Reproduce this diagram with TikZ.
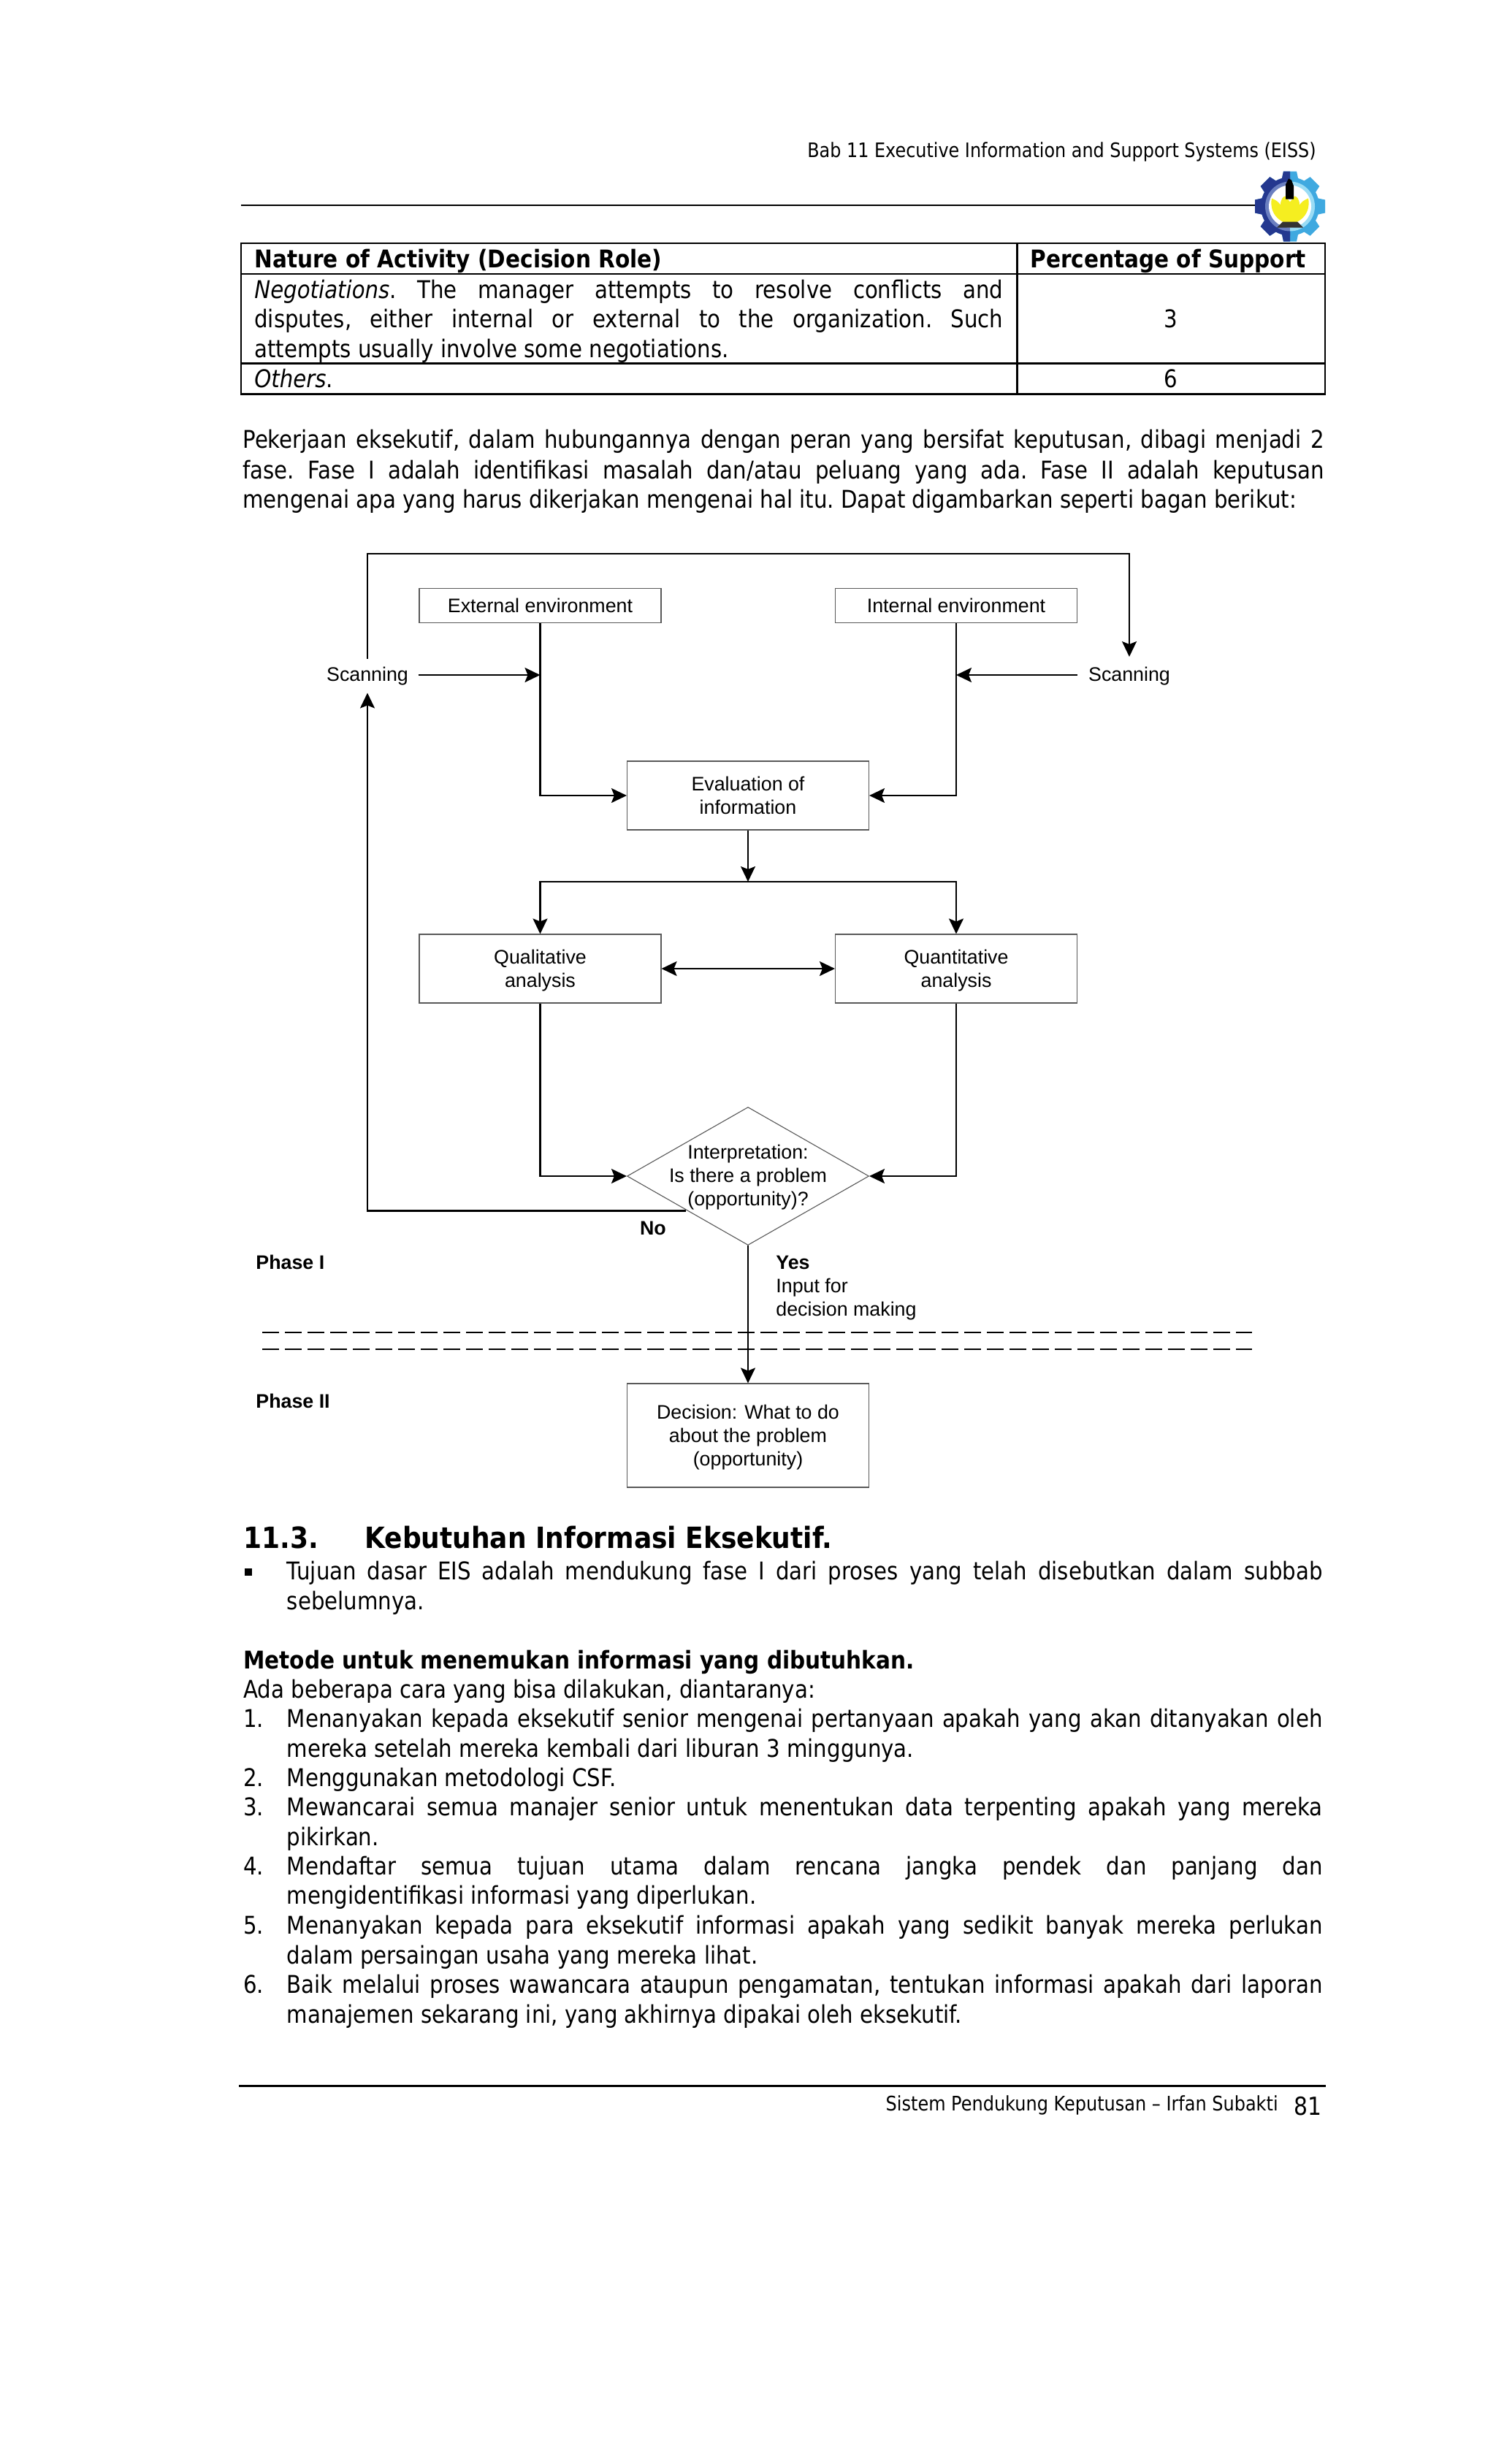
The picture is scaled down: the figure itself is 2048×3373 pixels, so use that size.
\documentclass[tikz,border=0pt]{standalone}
\usepackage{fontspec}
\usetikzlibrary{arrows.meta,shapes.geometric}
\setmainfont{Liberation Sans}
\newfontfamily\bodyf[FakeStretch=0.875]{DejaVu Sans}
\newfontfamily\bodyb[FakeStretch=0.885]{DejaVu Sans Bold}
\newfontfamily\titlef[FakeStretch=0.90]{DejaVu Sans Bold}
\newfontfamily\bodyi[FakeStretch=0.875]{DejaVu Sans Oblique}
\definecolor{itsdark}{HTML}{24388F}
\definecolor{itsmid}{HTML}{6A7FC0}
\definecolor{itslight}{HTML}{3FA9E0}
\definecolor{itspale}{HTML}{9ADCF5}
\definecolor{itsyel}{HTML}{F5EE20}
\tikzset{x=0.5pt,y=-0.5pt,
  diag/.style={font=\fontsize{13.4}{16}\selectfont,align=center,inner sep=0pt},
  diagb/.style={font=\fontsize{13.4}{16}\selectfont\bfseries,inner sep=0pt},
  fbox/.style={draw=black!65,line width=0.55pt,fill=white,minimum width=165.5pt,align=center,inner sep=0pt,font=\fontsize{13.4}{16}\selectfont},
  flow/.style={line width=1.1pt,-{Stealth[length=10.5pt,width=10pt,inset=2pt]}},
  both/.style={line width=1.1pt,{Stealth[length=10.5pt,width=10pt,inset=2pt]}-{Stealth[length=10.5pt,width=10pt,inset=2pt]}},
  tline/.style={line width=1.1pt},
  phasedash/.style={line width=1.1pt,dash pattern=on 11.5pt off 4pt},
  txt/.style={anchor=base west,inner sep=0pt,font=\fontsize{16.7}{20}\bodyf\frenchspacing},
  txtb/.style={anchor=base west,inner sep=0pt,font=\fontsize{16.7}{20}\bodyb\frenchspacing},
}
% \jl{name}{x}{baseline y}{width}{text}: a justified line of text
\newcommand{\jl}[5]{\node[txt] (#1) at (#2,#3) {\makebox[0.5\dimexpr #4pt\relax][s]{#5}};}
\newcommand{\nl}[4]{\node[txt] (#1) at (#2,#3) {#4};}
\begin{document}
\begin{tikzpicture}
\useasboundingbox (0,0) rectangle (2048,3373);
\fill[white] (0,0) rectangle (2048,3373);
% header
\node[anchor=base east,inner sep=0pt,font=\fontsize{13.65}{16}\bodyf] (hdr) at (1802,215) {Bab 11 Executive Information and Support Systems (EISS)};
\coordinate (ruleL) at (330,281); \coordinate (ruleR) at (1730,281);
\draw[line width=1.25pt] (ruleL) -- (ruleR);
% logo
\begin{scope}[shift={(1766,282.5)}]
  \foreach \a in {0,45,...,315}{\fill[itslight,rotate=\a] (-9,-48)--(9,-48)--(12,-34)--(-12,-34)--cycle;}
  \fill[itslight] (0,0) circle (40);
  \begin{scope}
    \clip (-60,-60) rectangle (0,60);
    \foreach \a in {0,45,...,315}{\fill[itsdark,rotate=\a] (-9,-48)--(9,-48)--(12,-34)--(-12,-34)--cycle;}
    \fill[itsdark] (0,0) circle (40);
    \fill[itsmid] (0,0) circle (34);
  \end{scope}
  \begin{scope}
    \clip (0,-60) rectangle (60,60);
    \fill[itspale] (0,0) circle (34);
  \end{scope}
  \fill[white] (0,0) circle (29);
  \fill[itsyel] (0,25) .. controls (-26,18) and (-27,-2) .. (-25,-11) .. controls (-18,-8) and (-16,-6) .. (-13,-2) .. controls (-13,-10) and (-9,-14) .. (-6,-14) .. controls (-4,-10) and (-1,-8) .. (0,-6) .. controls (1,-8) and (4,-10) .. (6,-14) .. controls (9,-14) and (13,-10) .. (13,-2) .. controls (16,-6) and (18,-8) .. (25,-11) .. controls (27,-2) and (26,18) .. (0,25) -- cycle;
  \fill[black] (-6,-10) -- (-6,-30) -- (-2,-38) -- (2,-36) -- (5,-28) -- (5,-10) -- cycle;
  \fill[black!80] (-18,29) -- (-10,21) -- (10,21) -- (18,29) -- cycle;
\end{scope}
% table
\coordinate (t1) at (330,333); \coordinate (t2) at (1814,539.5);
\draw[tline] (t1) rectangle (t2);
\draw[tline] (330,375) -- (1814,375) (330,497.5) -- (1814,497.5) (1392.5,333) -- (1392.5,539.5);
\node[txtb] (th1) at (348,366) {Nature of Activity (Decision Role)};
\node[txtb] (th2) at (1410,366) {Percentage of Support};
\node[txt] (r1a) at (348,408) {\makebox[0.5\dimexpr 1025pt\relax][s]{{\bodyi Negotiations}. The manager attempts to resolve conflicts and}};
\jl{r1b}{348}{448}{1025}{disputes, either internal or external to the organization. Such}
\nl{r1c}{348}{489}{attempts usually involve some negotiations.}
\node[txt,anchor=base] (n3) at (1603,448) {3};
\node[txt] (r2a) at (348,530) {{\bodyi Others}.};
\node[txt,anchor=base] (n6) at (1603,530) {6};
% paragraph
\jl{p1}{332}{613}{1480}{Pekerjaan eksekutif, dalam hubungannya dengan peran yang bersifat keputusan, dibagi menjadi 2}
\jl{p2}{332}{655}{1480}{fase. Fase I adalah identifikasi masalah dan/atau peluang yang ada. Fase II adalah keputusan}
\nl{p3}{332}{695}{mengenai apa yang harus dikerjakan mengenai hal itu. Dapat digambarkan seperti bagan berikut:}
% diagram nodes
\node[fbox,minimum height=23.75pt] (ext) at (739.5,829) {External environment};
\node[fbox,minimum height=23.75pt] (int) at (1309,829) {Internal environment};
\node[diag] (scanL) at (503,925.5) {Scanning};
\node[diag] (scanR) at (1546,925.5) {Scanning};
\node[fbox,minimum height=47pt] (eval) at (1024,1089) {Evaluation of\\information};
\node[fbox,minimum height=47pt] (qual) at (739.5,1326) {\rule{0pt}{12pt}Qualitative\\analysis};
\node[fbox,minimum height=47pt] (quant) at (1309,1326) {\rule{0pt}{12pt}Quantitative\\analysis};
\node[diamond,draw=black!65,line width=0.55pt,fill=white,minimum width=165.5pt,minimum height=94.5pt,inner sep=0pt,aspect=1.75] (dia) at (1024,1610) {};
\node[diag] (diat) at (1024,1611.5) {Interpretation:\\Is there a problem\\(opportunity)?};
\node[fbox,minimum height=71pt] (dec) at (1024,1965) {\rule{0pt}{12pt}Decision: What to do\\about the problem\\(opportunity)};
\node[diagb] (no) at (894,1681) {No};
\node[diagb,anchor=base west] (ph1) at (350,1737) {Phase I};
\node[diagb,anchor=base west] (ph2) at (350,1927) {Phase II};
\node[diagb,anchor=base west] (yes) at (1062,1737) {Yes};
\node[diag,anchor=base west] (inp1) at (1062,1769) {Input for};
\node[diag,anchor=base west] (inp2) at (1062,1801) {decision making};
% helper points
\coordinate (topL) at (503,758); \coordinate (topR) at (1546,758);
\coordinate (sL) at (503,901.5); \coordinate (sR) at (1546,899);
\coordinate (uL) at (503,948.5); \coordinate (noL) at (503,1657.5); \coordinate (noR) at (939,1657.5);
\coordinate (aL0) at (572.6,924); \coordinate (aL1) at (739.5,924);
\coordinate (aR0) at (1475,924); \coordinate (aR1) at (1309,924);
\coordinate (barM) at (1024,1207); \coordinate (barL) at (739.5,1207); \coordinate (barR) at (1309,1207);
\coordinate (d1a) at (359,1824); \coordinate (d1b) at (1714,1824);
\coordinate (d2a) at (359,1847); \coordinate (d2b) at (1714,1847);
% connectors
\draw[flow] (sL) -- (topL) -- (topR) -- (sR);
\draw[flow] (noR) -- (noL) -- (uL);
\draw[flow] (aL0) -- (aL1);
\draw[flow] (aR0) -- (aR1);
\draw[flow] (ext.south) |- (eval.west);
\draw[flow] (int.south) |- (eval.east);
\draw[flow] (eval.south) -- (barM);
\draw[flow] (barM) -- (barL) -- (qual.north);
\draw[flow] (barM) -- (barR) -- (quant.north);
\draw[both] (qual.east) -- (quant.west);
\draw[flow] (qual.south) |- (dia.west);
\draw[flow] (quant.south) |- (dia.east);
\draw[phasedash] (d1a) -- (d1b);
\draw[phasedash] (d2a) -- (d2b);
\draw[flow] (dia.south) -- (dec.north);
% section
\node[anchor=base west,inner sep=0pt,font=\fontsize{20}{24}\titlef] (sn) at (333,2119.5) {11.3.};
\node[anchor=base west,inner sep=0pt,font=\fontsize{20}{24}\titlef] (st) at (499,2119.5) {Kebutuhan Informasi Eksekutif.};
\fill (335,2147) rectangle (345,2157);
\jl{b1}{392.5}{2162}{1417.5}{Tujuan dasar EIS adalah mendukung fase I dari proses yang telah disebutkan dalam subbab}
\nl{b2}{392.5}{2203.4}{sebelumnya.}
\node[txtb] (mt) at (333,2284) {Metode untuk menemukan informasi yang dibutuhkan.};
\nl{ada}{333}{2324}{Ada beberapa cara yang bisa dilakukan, diantaranya:}
\nl{n1}{333}{2364}{1.} \jl{l1a}{392.5}{2364}{1417.5}{Menanyakan kepada eksekutif senior mengenai pertanyaan apakah yang akan ditanyakan oleh}
\nl{l1b}{392.5}{2405}{mereka setelah mereka kembali dari liburan 3 minggunya.}
\nl{n2}{333}{2445}{2.} \nl{l2a}{392.5}{2445}{Menggunakan metodologi CSF.}
\nl{n3x}{333}{2485}{3.} \jl{l3a}{392.5}{2485}{1417.5}{Mewancarai semua manajer senior untuk menentukan data terpenting apakah yang mereka}
\nl{l3b}{392.5}{2526}{pikirkan.}
\nl{n4}{333}{2566}{4.} \jl{l4a}{392.5}{2566}{1417.5}{Mendaftar semua tujuan utama dalam rencana jangka pendek dan panjang dan}
\nl{l4b}{392.5}{2606.6}{mengidentifikasi informasi yang diperlukan.}
\nl{n5}{333}{2647}{5.} \jl{l5a}{392.5}{2647}{1417.5}{Menanyakan kepada para eksekutif informasi apakah yang sedikit banyak mereka perlukan}
\nl{l5b}{392.5}{2688}{dalam persaingan usaha yang mereka lihat.}
\nl{n6x}{333}{2728}{6.} \jl{l6a}{392.5}{2728}{1417.5}{Baik melalui proses wawancara ataupun pengamatan, tentukan informasi apakah dari laporan}
\nl{l6b}{392.5}{2769}{manajemen sekarang ini, yang akhirnya dipakai oleh eksekutif.}
% footer
\coordinate (fL) at (327,2855.5); \coordinate (fR) at (1815,2855.5);
\draw[line width=1.1pt] (fL) -- (fR);
\node[anchor=base east,inner sep=0pt,font=\fontsize{13.7}{16}\bodyf] (ft) at (1750,2889) {Sistem Pendukung Keputusan – Irfan Subakti};
\node[anchor=base east,inner sep=0pt,font=\fontsize{17}{20}\bodyf] (pg) at (1810,2895) {81};
\end{tikzpicture}
\end{document}
